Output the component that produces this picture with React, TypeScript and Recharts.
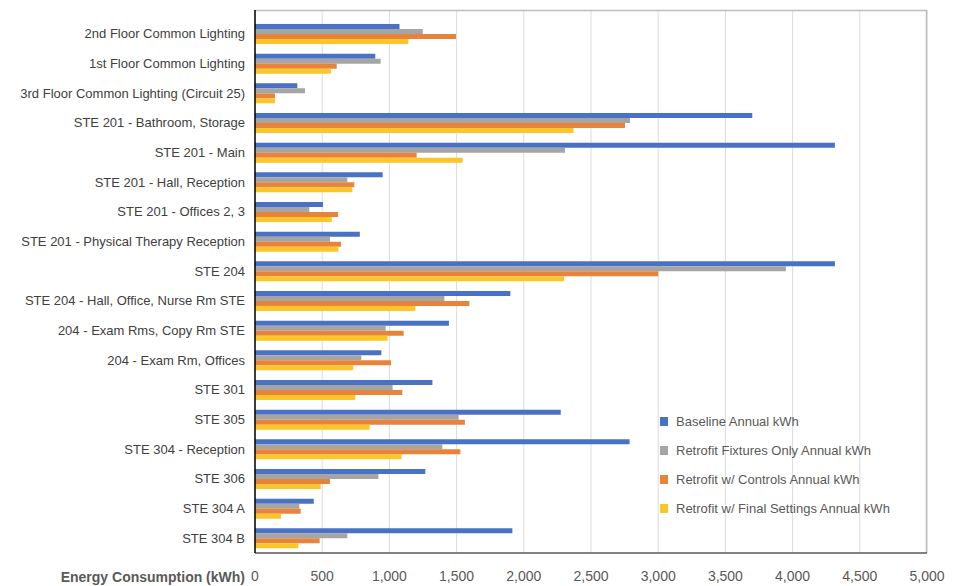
import React from 'react';
import { BarChart, Bar, XAxis, YAxis, CartesianGrid, Legend } from 'recharts';

const categories = [
  '2nd Floor Common Lighting',
  '1st Floor Common Lighting',
  '3rd Floor Common Lighting (Circuit 25)',
  'STE 201 - Bathroom, Storage',
  'STE 201 - Main',
  'STE 201 - Hall, Reception',
  'STE 201 - Offices 2, 3',
  'STE 201 - Physical Therapy Reception',
  'STE 204',
  'STE 204 - Hall, Office, Nurse Rm STE',
  '204 - Exam Rms, Copy Rm STE',
  '204 - Exam Rm, Offices',
  'STE 301',
  'STE 305',
  'STE 304 - Reception',
  'STE 306',
  'STE 304 A',
  'STE 304 B',
];

const baseline = [1075, 895, 315, 3700, 4315, 950, 506, 780, 4315, 1900, 1443, 940, 1320, 2275, 2787, 1267, 437, 1915];
const fixturesOnly = [1248, 935, 372, 2790, 2307, 687, 404, 558, 3950, 1409, 972, 791, 1024, 1515, 1394, 918, 330, 687];
const withControls = [1496, 608, 149, 2753, 1203, 739, 618, 640, 3000, 1595, 1106, 1012, 1096, 1562, 1528, 558, 340, 481];
const finalSettings = [1141, 565, 149, 2370, 1545, 724, 571, 620, 2300, 1193, 987, 731, 746, 853, 1091, 489, 193, 322];

const seriesNames = [
  'Baseline Annual kWh',
  'Retrofit Fixtures Only Annual kWh',
  'Retrofit w/ Controls Annual kWh',
  'Retrofit w/ Final Settings Annual kWh',
];
const seriesColors = ['#4a72c4', '#a5a5a5', '#e8843a', '#fcc52a'];

const xTicks = [0, 500, 1000, 1500, 2000, 2500, 3000, 3500, 4000, 4500, 5000];

const data = categories.map((name, i) => ({
  name,
  s0: baseline[i],
  s1: fixturesOnly[i],
  s2: withControls[i],
  s3: finalSettings[i],
}));

const FONT = '"Liberation Sans", Arial, sans-serif';

const LegendContent = () => (
  <div style={{ fontFamily: FONT, fontSize: 13, color: '#595959' }}>
    {seriesNames.map((n, i) => (
      <div key={n} style={{ display: 'flex', alignItems: 'center', height: 29 }}>
        <span style={{ display: 'inline-block', width: 8, height: 9, background: seriesColors[i], marginRight: 8 }} />
        <span>{n}</span>
      </div>
    ))}
  </div>
);

export default function App() {
  return (
    <div style={{ position: 'absolute', left: 0, top: 0, width: 964, height: 586, background: '#fff' }}>
      <BarChart
        width={964}
        height={586}
        data={data}
        layout="vertical"
        margin={{ top: 10, right: 37, bottom: 3, left: 0 }}
        barGap={0}
        barSize={5}
      >
        <CartesianGrid horizontal={false} stroke="#dcdcdc" />
        <CartesianGrid vertical={false} horizontalPoints={[10.5]} stroke="#bdbdbd" strokeWidth={1.5} />
        <CartesianGrid horizontal={false} verticalPoints={[926.5]} stroke="#bdbdbd" strokeWidth={1.5} />
        <XAxis
          type="number"
          domain={[0, 5000]}
          ticks={xTicks}
          tickFormatter={(v: number) => v.toLocaleString('en-US')}
          tickLine={false}
          axisLine={{ stroke: '#595959', strokeWidth: 1.5 }}
          tick={{ fill: '#595959', fontSize: 14, fontFamily: FONT }}
          tickSize={6}
          tickMargin={12}
          height={30}
          interval={0}
          label={{
            value: 'Energy Consumption (kWh)',
            position: 'left',
            offset: 10,
            dy: 9,
            style: { fill: '#595959', fontSize: 14, fontWeight: 'bold', fontFamily: FONT },
          }}
        />
        <YAxis
          type="category"
          dataKey="name"
          width={255}
          padding={{ top: 9, bottom: 0 }}
          tickLine={false}
          axisLine={{ stroke: '#000', strokeWidth: 1.5 }}
          tick={{ fill: '#404040', fontSize: 13, fontFamily: FONT, width: 300 }}
          tickSize={6}
          tickMargin={4}
          interval={0}
        />
        <Legend
          layout="vertical"
          align="center"
          verticalAlign="middle"
          content={<LegendContent />}
          wrapperStyle={{ left: 660, top: 407, width: 260 }}
        />
        <Bar dataKey="s0" name={seriesNames[0]} fill={seriesColors[0]} isAnimationActive={false} />
        <Bar dataKey="s1" name={seriesNames[1]} fill={seriesColors[1]} isAnimationActive={false} />
        <Bar dataKey="s2" name={seriesNames[2]} fill={seriesColors[2]} isAnimationActive={false} />
        <Bar dataKey="s3" name={seriesNames[3]} fill={seriesColors[3]} isAnimationActive={false} />
      </BarChart>
    </div>
  );
}
